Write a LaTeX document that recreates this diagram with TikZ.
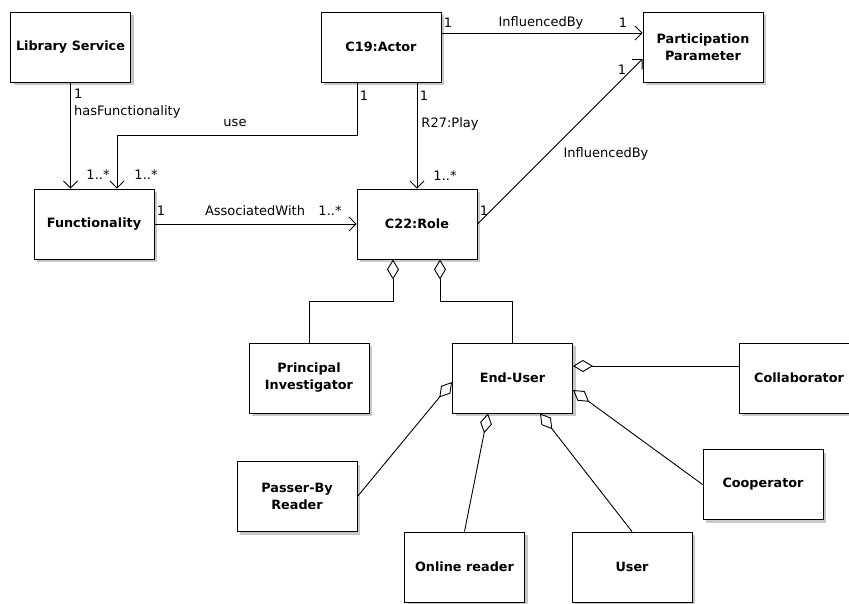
\documentclass[tikz,border=0pt]{standalone}
\usepackage{fontspec}
\setmainfont{DejaVu Sans}
\usetikzlibrary{arrows.meta,shadows}

\begin{document}
\begin{tikzpicture}[
      x=1pt, y=-1pt,
      cls/.style={draw, line width=0.9pt, fill=white, minimum width=120pt, minimum height=70pt,
        inner sep=0pt, align=center, font=\fontsize{12.8}{17}\selectfont\bfseries,
        drop shadow={shadow xshift=3pt, shadow yshift=-3pt, fill=black!22, opacity=1}},
      assoc/.style={-{Straight Barb[length=7pt, width=14pt, line width=0.9pt]}, line width=0.9pt},
      agg/.style={{Diamond[open, length=20pt, width=12pt, line width=0.9pt]}-, line width=0.9pt},
      lbl/.style={inner sep=0pt, font=\fontsize{13}{15}\selectfont}
    ]
    \useasboundingbox (0,0) rectangle (849,603);
    \clip (0,0) rectangle (849,603);

    % classes
    \node[cls] (lib) at (70.5,47) {Library Service};
    \node[cls] (actor) at (381,47) {C19:Actor};
    \node[cls] (pp) at (703,47) {Participation\\Parameter};
    \node[cls] (func) at (94,224) {Functionality};
    \node[cls] (role) at (417,224) {C22:Role};
    \node[cls] (pi) at (309,378) {Principal\\Investigator};
    \node[cls] (eu) at (512.5,378) {End-User};
    \node[cls] (collab) at (799,378) {Collaborator};
    \node[cls] (passer) at (297,496.5) {Passer-By\\Reader};
    \node[cls] (online) at (464.5,567) {Online reader};
    \node[cls] (user) at (632,567) {User};
    \node[cls] (coop) at (763,484.5) {Cooperator};

    % associations
    \draw[assoc] (lib.south) -- (lib.south |- func.north);
    \coordinate (usebend) at (117,135);
    \draw[assoc] ([xshift=-24pt]actor.south) |- (usebend) -- (usebend |- func.north);
    \draw[assoc] ([xshift=36pt]actor.south) -- (role.north);
    \draw[assoc] ([yshift=14pt]actor.east) -- ([yshift=14pt]pp.west);
    \draw[assoc] (role.east) -- ([yshift=-12pt]pp.west);
    \draw[assoc] (func.east) -- (role.west);

    % aggregations
    \draw[agg] ([xshift=-24pt]role.south) -- ++(0,42) -| (pi.north);
    \draw[agg] ([xshift=23pt]role.south) -- ++(0,42) -| (eu.north);
    \draw[agg] ([yshift=12pt]eu.east) -- ([yshift=12pt]collab.west);
    \draw[agg] ([yshift=-12pt]eu.east) -- (coop.west);
    \draw[agg] ([xshift=27.5pt]eu.south) -- (user.north);
    \draw[agg] ([xshift=-24.5pt]eu.south) -- (online.north);
    \draw[agg] ([yshift=-4pt]eu.west) -- (passer.east);

    % labels
    \node[lbl, anchor=west] (m1) at (74,94) {1};
    \node[lbl, anchor=west] (hasf) at (74,112) {hasFunctionality};
    \node[lbl] (m2) at (98,175) {1..*};
    \node[lbl] (m3) at (146,175) {1..*};
    \node[lbl] (use) at (235,123) {use};
    \node[lbl] (m4) at (364,96) {1};
    \node[lbl] (m5) at (424,96) {1};
    \node[lbl] (play) at (450,124) {R27:Play};
    \node[lbl] (m6) at (445,176) {1..*};
    \node[lbl] (m7) at (448,23) {1};
    \node[lbl] (infl1) at (541,23) {InfluencedBy};
    \node[lbl] (m8) at (623,23) {1};
    \node[lbl] (m9) at (622,70) {1};
    \node[lbl] (infl2) at (606,154) {InfluencedBy};
    \node[lbl] (m10) at (484,211) {1};
    \node[lbl] (m11) at (161,211) {1};
    \node[lbl] (assw) at (255,211) {AssociatedWith};
    \node[lbl] (m12) at (330,211) {1..*};
  \end{tikzpicture}
\end{document}
